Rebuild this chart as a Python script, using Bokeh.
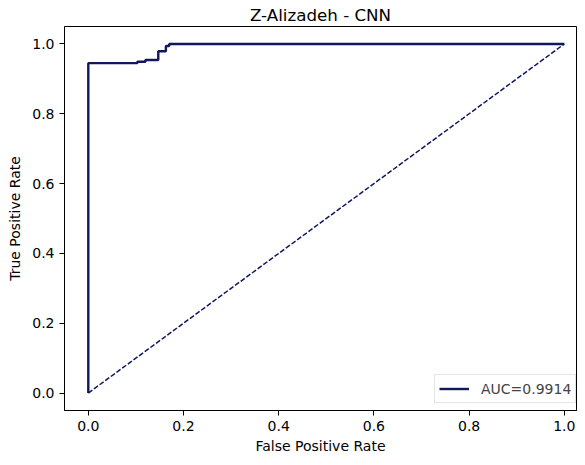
from bokeh.plotting import figure
from bokeh.models import Range1d, FixedTicker, PrintfTickFormatter, Legend, LegendItem
from bokeh.embed import file_html
from bokeh.resources import INLINE

# ROC curve values
fpr = [0.0, 0.0, 0.103, 0.103, 0.120, 0.120, 0.147, 0.147, 0.163, 0.163, 0.170, 0.170, 1.0]
tpr = [0.0, 0.945, 0.945, 0.949, 0.949, 0.954, 0.954, 0.979, 0.979, 0.994, 0.994, 1.0, 1.0]
diag_x = [0.0, 1.0]
diag_y = [0.0, 1.0]
auc_label = "AUC=0.9914"
title_text = "Z-Alizadeh - CNN"
ticks = [0.0, 0.2, 0.4, 0.6, 0.8, 1.0]

FONT = "DejaVu Sans"
COLOR = "#10175e"

p = figure(width=577, height=457, output_backend="svg", toolbar_location=None,
           x_range=Range1d(-0.05, 1.0256), y_range=Range1d(-0.05, 1.05),
           frame_width=512, frame_height=384,
           min_border_left=64, min_border_right=1, min_border_top=25, min_border_bottom=48)

p.title.text = title_text
p.title.align = "center"
p.title.text_font = FONT
p.title.text_font_size = "16.7px"
p.title.text_font_style = "normal"
p.title.text_color = "black"
p.title.standoff = 4
p.title.offset = 5

p.grid.visible = False
p.outline_line_color = "black"
p.outline_line_width = 1
p.outline_line_alpha = 1.0

for ax in (p.xaxis[0], p.yaxis[0]):
    ax.ticker = FixedTicker(ticks=ticks)
    ax.formatter = PrintfTickFormatter(format="%.1f")
    ax.major_label_text_font = FONT
    ax.major_label_text_font_size = "14px"
    ax.major_label_text_color = "black"
    ax.axis_label_text_font = FONT
    ax.axis_label_text_font_size = "14px"
    ax.axis_label_text_font_style = "normal"
    ax.axis_label_text_color = "black"
    ax.major_tick_out = 5
    ax.major_tick_in = 0
    ax.minor_tick_out = 0
    ax.minor_tick_in = 0
    ax.axis_line_color = "black"
    ax.major_tick_line_color = "black"
    ax.major_label_standoff = 5

p.xaxis.axis_label = "False Positive Rate"
p.yaxis.axis_label = "True Positive Rate"
p.xaxis.axis_label_standoff = 4
p.yaxis.axis_label_standoff = 6

roc = p.line(fpr, tpr, line_color=COLOR, line_width=2.4)
p.line(diag_x, diag_y, line_color=COLOR, line_width=1.5, line_dash="5 2")

legend = Legend(items=[LegendItem(label=auc_label, renderers=[roc])],
                location=(370, 7))
legend.label_text_font = FONT
legend.label_text_font_size = "14px"
legend.border_line_color = "#cccccc"
legend.border_line_width = 1
legend.margin = 0
legend.padding = 4
legend.glyph_width = 30
legend.glyph_height = 19
legend.label_height = 19
legend.label_standoff = 12
legend.spacing = 0
p.add_layout(legend)

open("out.html", "w").write(file_html(p, INLINE))
